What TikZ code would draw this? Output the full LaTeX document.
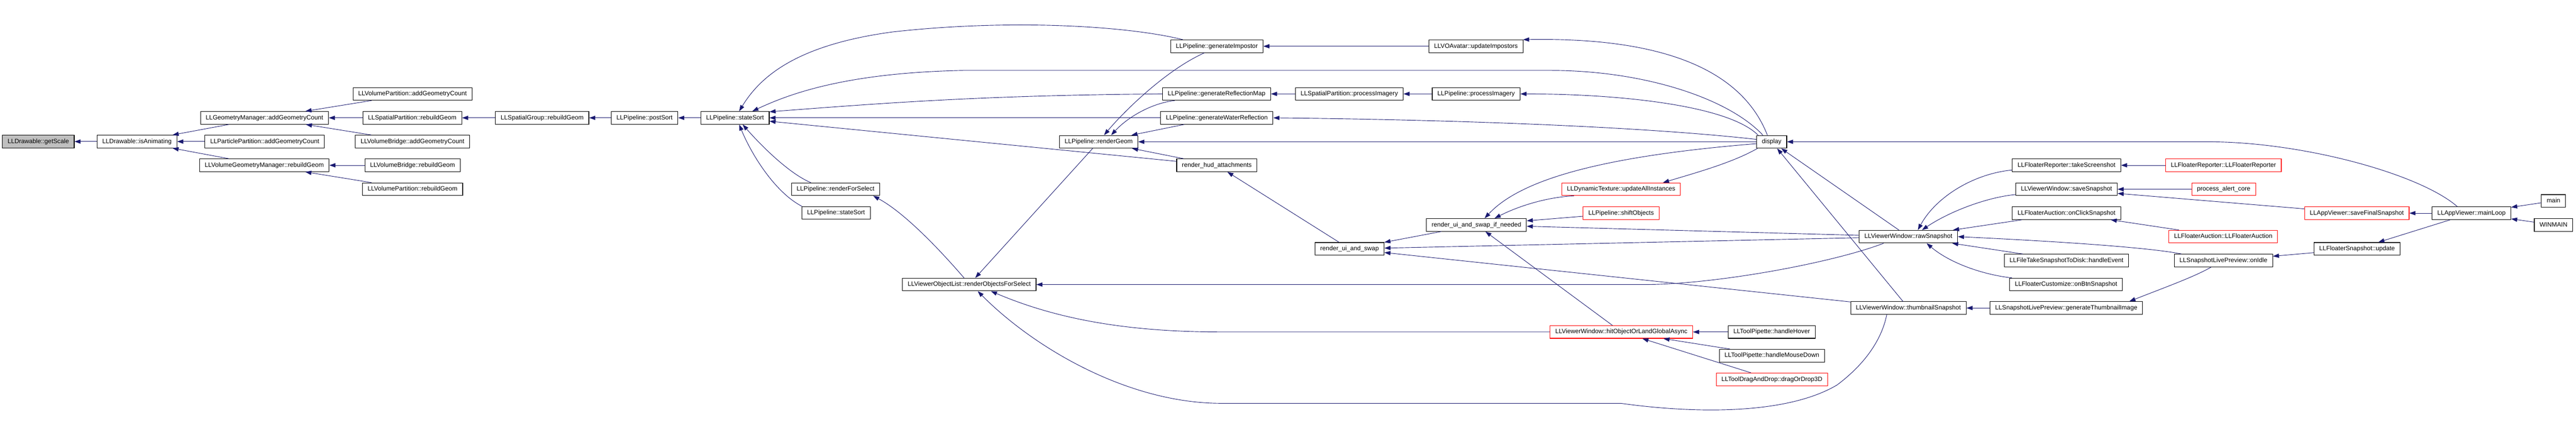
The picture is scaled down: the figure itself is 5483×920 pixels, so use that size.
\documentclass[tikz,border=0pt]{standalone}
\usepackage{fontspec}
\setmainfont{Liberation Sans}
\usepackage{tikz}
\usetikzlibrary{arrows.meta}
\definecolor{edgeblue}{HTML}{191970}
\definecolor{focusgray}{HTML}{BFBFBF}

\begin{document}
\begin{tikzpicture}[x=0.5pt,y=-0.5pt,
    fn/.style={draw=black,line width=0.6pt,rectangle,minimum height=13.5pt,inner xsep=5.6pt,inner ysep=0pt,
      text height=4.9pt,text depth=1.4pt,font=\fontsize{6.67}{8}\selectfont},
    cut/.style={fn,draw=red},
    calls/.style={<-,>={Triangle[length=6.5pt,width=4.5pt]},draw=edgeblue,line width=0.5pt}]
  \useasboundingbox (0,0) rectangle (5483,920);
  \node[fn,fill=focusgray] (getScale) at (81.5,301.5) {LLDrawable::getScale};
  \foreach \n/\x/\y/\lbl in {isAnim/291.5/301.5/LLDrawable::isAnimating,
      gmAdd/563/251/LLGeometryManager::addGeometryCount,
      ppAdd/563.5/301.5/LLParticlePartition::addGeometryCount,
      vgmRebuild/562.5/352/LLVolumeGeometryManager::rebuildGeom,
      vpAdd/878/200/LLVolumePartition::addGeometryCount,
      spRebuild/877.5/251/LLSpatialPartition::rebuildGeom,
      vbAdd/878/301.5/LLVolumeBridge::addGeometryCount,
      vbRebuild/878/352/LLVolumeBridge::rebuildGeom,
      vpRebuild/878/403/LLVolumePartition::rebuildGeom,
      sgRebuild/1154/251/LLSpatialGroup::rebuildGeom,
      postSort/1372/251/LLPipeline::postSort,
      stateSort/1564.5/251/LLPipeline::stateSort,
      renderSel/1778.5/403/LLPipeline::renderForSelect,
      stateSortB/1779.5/453.5/LLPipeline::stateSort,
      objSel/2063/606/LLViewerObjectList::renderObjectsForSelect,
      renderGeom/2338.5/302/LLPipeline::renderGeom,
      genImp/2590/98.5/LLPipeline::generateImpostor,
      genRefl/2589.5/200/LLPipeline::generateReflectionMap,
      genWater/2590/251/LLPipeline::generateWaterReflection,
      hud/2590/352/render\_hud\_attachments,
      spImagery/2872/200/LLSpatialPartition::processImagery,
      uiSwap/2872.5/530/render\_ui\_and\_swap,
      updImp/3141.5/98.5/LLVOAvatar::updateImpostors,
      pipeImagery/3142/200/LLPipeline::processImagery,
      uiSwapIf/3142.5/479/render\_ui\_and\_swap\_if\_needed,
      display/3771/302/display,
      pipHover/3771/707/LLToolPipette::handleHover,
      pipDown/3771.5/757.5/LLToolPipette::handleMouseDown,
      rawSnap/4062/504/LLViewerWindow::rawSnapshot,
      thumbSnap/4062/656/LLViewerWindow::thumbnailSnapshot,
      takeShot/4398.5/352/LLFloaterReporter::takeScreenshot,
      saveSnap/4398.5/403/LLViewerWindow::saveSnapshot,
      auctionSnap/4398.5/454/LLFloaterAuction::onClickSnapshot,
      diskEvent/4398.5/555/LLFileTakeSnapshotToDisk::handleEvent,
      custSnap/4397.5/606/LLFloaterCustomize::onBtnSnapshot,
      genThumb/4398/656/LLSnapshotLivePreview::generateThumbnailImage,
      onIdle/4732.5/555/LLSnapshotLivePreview::onIdle,
      snapUpdate/5017/530/LLFloaterSnapshot::update,
      mainLoop/5260.5/454/LLAppViewer::mainLoop,
      main/5435/428/main,
      winMain/5435/479/WINMAIN}
    \node[fn] (\n) at (\x,\y) {\lbl};
  \foreach \n/\x/\y/\lbl in {dynTex/3450.5/403/LLDynamicTexture::updateAllInstances,
      shiftObj/3450.5/454/LLPipeline::shiftObjects,
      hitObj/3451/707/LLViewerWindow::hitObjectOrLandGlobalAsync,
      dragDrop/3771.5/808/LLToolDragAndDrop::dragOrDrop3D,
      reporter/4732.5/352/LLFloaterReporter::LLFloaterReporter,
      alertCore/4733/403/process\_alert\_core,
      auction/4732/504/LLFloaterAuction::LLFloaterAuction,
      finalSnap/5016.5/454/LLAppViewer::saveFinalSnapshot}
    \node[cut] (\n) at (\x,\y) {\lbl};
  \foreach \a/\b in {getScale/isAnim, isAnim/gmAdd, isAnim/ppAdd, isAnim/vgmRebuild,
      gmAdd/vpAdd, gmAdd/spRebuild, gmAdd/vbAdd, vgmRebuild/vbRebuild, vgmRebuild/vpRebuild,
      spRebuild/sgRebuild, sgRebuild/postSort, postSort/stateSort, stateSort/genWater, stateSort/hud,
      objSel/renderGeom, renderGeom/genWater, renderGeom/display, renderGeom/hud,
      genImp/updImp, genRefl/spImagery, spImagery/pipeImagery, hud/uiSwap,
      uiSwap/uiSwapIf, uiSwap/rawSnap, uiSwap/thumbSnap, uiSwapIf/shiftObj, uiSwapIf/rawSnap,
      uiSwapIf/hitObj, hitObj/pipHover, hitObj/pipDown, hitObj/dragDrop,
      display/rawSnap, display/thumbSnap, rawSnap/auctionSnap, rawSnap/diskEvent,
      thumbSnap/genThumb, takeShot/reporter, saveSnap/alertCore, saveSnap/finalSnap,
      auctionSnap/auction, onIdle/snapUpdate, finalSnap/mainLoop, snapUpdate/mainLoop,
      mainLoop/main, mainLoop/winMain}
    \draw[calls] (\a) -- (\b);
  \draw[calls] (stateSort.58) .. controls (1620,160) and (1700,95) .. (1900,68)
    .. controls (2150,40) and (2400,55) .. (genImp.169);
  \draw[calls] (stateSort.21) .. controls (1680,200) and (1800,155) .. (2050,150) -- (3300,150)
    .. controls (3500,150) and (3680,210) .. (display.143);
  \draw[calls] (stateSort.10) .. controls (1900,218) and (2100,203) .. (genRefl.west);
  \draw[calls] (stateSort.-41) .. controls (1620,310) and (1680,370) .. (renderSel.165);
  \draw[calls] (stateSort.-58) .. controls (1600,330) and (1650,410) .. (stateSortB.169);
  \draw[calls] (renderSel.-10) .. controls (1920,450) and (1990,520) .. (objSel.128);
  \draw[calls] (objSel.east) -- (3500,606) .. controls (3650,606) and (3900,560) .. (rawSnap.-165);
  \draw[calls] (objSel.-17) .. controls (2250,680) and (2400,707) .. (2600,707) -- (hitObj.west);
  \draw[calls] (objSel.-38) .. controls (2200,740) and (2400,859) .. (2600,859) -- (3450,859)
    .. controls (3600,880) and (3800,885) .. (3910,820) .. controls (3990,760) and (4010,700) .. (thumbSnap.-163);
  \draw[calls] (renderGeom.51) .. controls (2390,240) and (2480,150) .. (genImp.-152);
  \draw[calls] (renderGeom.28) .. controls (2400,250) and (2450,220) .. (genRefl.-171);
  \draw[calls] (updImp.8) .. controls (3500,80) and (3700,130) .. (display.123);
  \draw[calls] (pipeImagery.east) .. controls (3450,200) and (3680,225) .. (display.154);
  \draw[calls] (genWater.east) .. controls (3100,255) and (3500,270) .. (display.171);
  \draw[calls] (uiSwapIf.39) .. controls (3230,390) and (3380,335) .. (display.-173);
  \draw[calls] (uiSwapIf.20) .. controls (3230,440) and (3290,420) .. (dynTex.-172);
  \draw[calls] (dynTex.9) .. controls (3620,365) and (3690,345) .. (display.-155);
  \draw[calls] (display.east) -- (4700,302) .. controls (4900,302) and (5150,370) .. (mainLoop.155);
  \draw[calls] (rawSnap.35) .. controls (4120,420) and (4200,370) .. (takeShot.-175);
  \draw[calls] (rawSnap.26) .. controls (4150,450) and (4230,420) .. (saveSnap.-174);
  \draw[calls] (rawSnap.east) .. controls (4400,515) and (4580,528) .. (onIdle.171);
  \draw[calls] (rawSnap.-20) .. controls (4150,560) and (4220,585) .. (custSnap.173);
  \draw[calls] (genThumb.6) .. controls (4600,615) and (4670,590) .. (onIdle.-152);
\end{tikzpicture}
\end{document}
